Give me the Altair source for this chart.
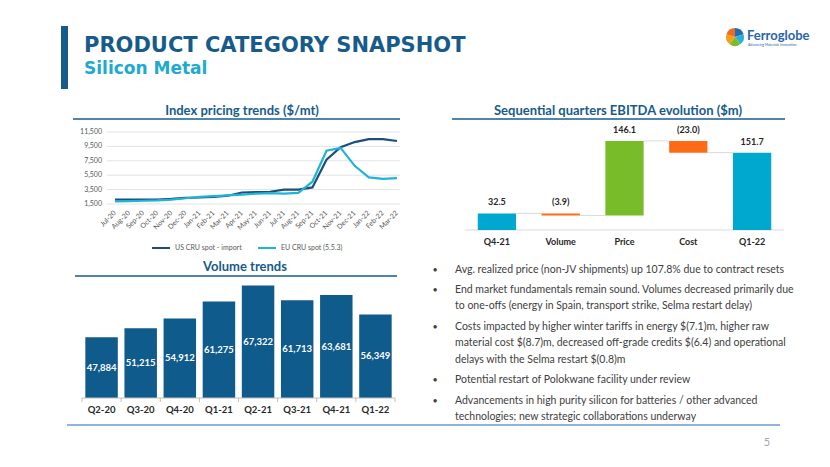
import altair as alt
import pandas as pd

FONT_T = "DejaVu Sans"
FONT = "Lato"
DARK = "#175b8b"
CYAN = "#22a9d1"
GREY_TXT = "#404040"

# ---------------- data ----------------
months = ["Jul-20", "Aug-20", "Sep-20", "Oct-20", "Nov-20", "Dec-20", "Jan-21",
          "Feb-21", "Mar-21", "Apr-21", "May-21", "Jun-21", "Jul-21", "Aug-21",
          "Sep-21", "Oct-21", "Nov-21", "Dec-21", "Jan-22", "Feb-22", "Mar-22"]
us_cru_spot = [2100, 2100, 2100, 2100, 2200, 2350, 2400, 2500, 2650, 3100, 3150,
               3200, 3500, 3500, 3800, 7650, 9400, 10100, 10500, 10500, 10250]
eu_cru_spot = [1870, 1900, 1950, 2000, 2100, 2300, 2500, 2600, 2700, 2800, 2950,
               3000, 2950, 3050, 4600, 8900, 9300, 6800, 5200, 5000, 5100]
series_names = ["US CRU spot - import", "EU CRU spot (5.5.3)"]
price_ticks = [1500, 3500, 5500, 7500, 9500, 11500]

ebitda_steps = ["Q4-21", "Volume", "Price", "Cost", "Q1-22"]
ebitda_values = [32.5, -3.9, 146.1, -23.0, 151.7]
ebitda_is_total = [True, False, False, False, True]

quarters = ["Q2-20", "Q3-20", "Q4-20", "Q1-21", "Q2-21", "Q3-21", "Q4-21", "Q1-22"]
volumes = [47884, 51215, 54912, 61275, 67322, 61713, 63681, 56349]
volume_floor = 25000

bullets = [
    ["Avg. realized price (non-JV shipments) up 107.8% due to contract resets"],
    ["End market fundamentals remain sound.  Volumes decreased primarily due",
     "to one-offs (energy in Spain, transport strike, Selma restart delay)"],
    ["Costs impacted by higher winter tariffs in energy $(7.1)m, higher raw",
     "material cost $(8.7)m, decreased off-grade credits $(6.4) and operational",
     "delays with the Selma restart $(0.8)m"],
    ["Potential restart of Polokwane facility under review"],
    ["Advancements in high purity silicon for batteries / other advanced",
     "technologies; new strategic collaborations underway"],
]

title = "PRODUCT CATEGORY SNAPSHOT"
subtitle = "Silicon Metal"
headers = ["Index pricing trends ($/mt)", "Sequential quarters EBITDA evolution ($m)", "Volume trends"]
logo_parts = ["p1", "p2", "p3", "p4", "p5"]
logo_share = [1, 1, 1, 1, 1]


def lin(domain, rng):
    return alt.Scale(type="linear", domain=domain, range=rng, nice=False, zero=False)


one = pd.DataFrame({"k": [0]})
layers = []

# ---------------- slide decorations ----------------
layers.append(alt.Chart(one).mark_rect(color=DARK).encode(
    x=alt.value(61), x2=alt.value(68), y=alt.value(26), y2=alt.value(89)))
layers.append(alt.Chart(one).mark_text(align="left", baseline="alphabetic", font=FONT_T,
                                       fontSize=21, fontWeight="bold", color=DARK).encode(
    x=alt.value(84), y=alt.value(52), text=alt.value(title)))
layers.append(alt.Chart(one).mark_text(align="left", baseline="alphabetic", font=FONT_T,
                                       fontSize=17, fontWeight="bold", color=CYAN).encode(
    x=alt.value(84), y=alt.value(74), text=alt.value(subtitle)))

# logo
logo_df = pd.DataFrame({"part": logo_parts, "share": logo_share})
layers.append(alt.Chart(logo_df).mark_arc(outerRadius=9).encode(
    theta=alt.Theta("share:Q"),
    color=alt.Color("part:N", scale=alt.Scale(domain=logo_parts,
                    range=["#1f6db4", "#27b4d8", "#7cbb2a", "#f6a01a", "#ef6a23"]), legend=None),
    x=alt.value(735), y=alt.value(37)))
layers.append(alt.Chart(one).mark_text(align="left", baseline="middle", font=FONT,
                                       fontSize=13, fontWeight="bold", color="#2a64aa").encode(
    x=alt.value(747), y=alt.value(36), text=alt.value("Ferroglobe")))
layers.append(alt.Chart(one).mark_text(align="left", baseline="middle", font=FONT,
                                       fontSize=3.5, color="#2a64aa").encode(
    x=alt.value(748), y=alt.value(45), text=alt.value("Advancing Materials Innovation")))

# section headers
for txt, cx, ty, lx0, lx1, ly in [(headers[0], 242, 115, 73, 400, 119),
                                  (headers[1], 618, 115, 452, 785, 119),
                                  (headers[2], 245, 271, 75, 397, 276)]:
    layers.append(alt.Chart(one).mark_text(align="center", baseline="alphabetic", font=FONT,
                                           fontSize=13, fontWeight="bold", color=DARK).encode(
        x=alt.value(cx), y=alt.value(ty), text=alt.value(txt)))
    layers.append(alt.Chart(one).mark_rule(color=DARK, strokeWidth=1.6).encode(
        x=alt.value(lx0), x2=alt.value(lx1), y=alt.value(ly)))

# bottom line and page number
layers.append(alt.Chart(one).mark_rule(color="#6b9bd2", strokeWidth=1.5).encode(
    x=alt.value(67), x2=alt.value(780), y=alt.value(425)))
layers.append(alt.Chart(one).mark_text(align="center", baseline="middle", font=FONT,
                                       fontSize=11, color="#a6a6a6").encode(
    x=alt.value(767), y=alt.value(443), text=alt.value("5")))

# ---------------- index pricing line chart ----------------
n_m = len(months)
px = lin([0, n_m - 1], [115, 397])
py = lin([1500, 11500], [204, 132])

grid_df = pd.DataFrame({"v": price_ticks})
layers.append(alt.Chart(grid_df).mark_rule(color="#e3e3e3", strokeWidth=1).encode(
    y=alt.Y("v:Q", scale=py, axis=None), x=alt.value(107), x2=alt.value(400)))
layers.append(alt.Chart(grid_df).mark_text(align="right", baseline="middle", font=FONT,
                                           fontSize=7, color="#595959").encode(
    y=alt.Y("v:Q", scale=py, axis=None), x=alt.value(102), text=alt.Text("v:Q", format=",")))

price_long = pd.DataFrame({
    "i": list(range(n_m)) * 2,
    "month": months * 2,
    "series": [series_names[0]] * n_m + [series_names[1]] * n_m,
    "price": us_cru_spot + eu_cru_spot,
})
layers.append(alt.Chart(price_long).mark_line(strokeWidth=2.2).encode(
    x=alt.X("i:Q", scale=px, axis=None),
    y=alt.Y("price:Q", scale=py, axis=None),
    color=alt.Color("series:N",
                    scale=alt.Scale(domain=series_names, range=["#1c4e7c", "#1fb3d6"]),
                    legend=alt.Legend(orient="none", legendX=151, legendY=238,
                                      direction="horizontal", title=None,
                                      symbolType="stroke", symbolStrokeWidth=2,
                                      symbolSize=324, labelFont=FONT, labelFontSize=7,
                                      labelColor="#595959", columnPadding=12,
                                      labelLimit=200)),
    order="i:Q"))

month_df = pd.DataFrame({"i": list(range(n_m)), "month": months})
layers.append(alt.Chart(month_df).mark_text(angle=315, align="right", baseline="middle",
                                            font=FONT, fontSize=7, color="#595959").encode(
    x=alt.X("i:Q", scale=px, axis=None), y=alt.value(212), text="month:N"))

# ---------------- EBITDA waterfall ----------------
wx = lin([0, 5], [465, 784])
wy = lin([0, 200], [230, 128])

rows = []
level = 0.0
for k, (step, val, tot) in enumerate(zip(ebitda_steps, ebitda_values, ebitda_is_total)):
    if tot:
        start, end = 0.0, val
        kind = "total"
    else:
        start, end = level, level + val
        kind = "increase" if val > 0 else "decrease"
    level = end
    rows.append(dict(k=k, step=step, start=start, end=end, top=max(start, end), kind=kind,
                     label=(f"{val:.1f}" if val >= 0 else f"({abs(val):.1f})"),
                     left=k + 0.2, right=k + 0.8, mid=k + 0.5))
wf = pd.DataFrame(rows)
conn = pd.DataFrame([dict(a=r["k"] + 0.8, b=r["k"] + 1.2, lvl=r["end"]) for r in rows[:-1]])

layers.append(alt.Chart(one).mark_rule(color="#d9d9d9", strokeWidth=1).encode(
    x=alt.value(465), x2=alt.value(784), y=alt.value(230)))
layers.append(alt.Chart(conn).mark_rule(color="#d9d9d9", strokeWidth=1).encode(
    x=alt.X("a:Q", scale=wx, axis=None), x2="b:Q",
    y=alt.Y("lvl:Q", scale=wy, axis=None)))
layers.append(alt.Chart(wf).mark_bar().encode(
    x=alt.X("left:Q", scale=wx, axis=None), x2="right:Q",
    y=alt.Y("start:Q", scale=wy, axis=None), y2="end:Q",
    color=alt.Color("kind:N", scale=alt.Scale(domain=["total", "increase", "decrease"],
                                              range=["#00a7cf", "#79bc2a", "#ff6a17"]),
                    legend=None)))
layers.append(alt.Chart(wf).mark_text(align="center", baseline="middle", dy=-11, font=FONT,
                                      fontSize=9, fontWeight="bold", color="#262626").encode(
    x=alt.X("mid:Q", scale=wx, axis=None), y=alt.Y("top:Q", scale=wy, axis=None),
    text="label:N"))
layers.append(alt.Chart(wf).mark_text(align="center", baseline="middle", font=FONT,
                                      fontSize=9, fontWeight="bold", color="#262626").encode(
    x=alt.X("mid:Q", scale=wx, axis=None), y=alt.value(242), text="step:N"))

# ---------------- volume bars ----------------
vx = lin([0, 8], [82, 395])
vy = lin([volume_floor, 70000], [398, 278.3])
vol = pd.DataFrame({"i": list(range(len(quarters))), "q": quarters, "vol": volumes})
vol["left"] = vol["i"] + 0.085
vol["right"] = vol["i"] + 0.915
vol["mid"] = vol["i"] + 0.5
vol["floor"] = volume_floor
vol["center"] = (vol["vol"] + volume_floor) / 2

layers.append(alt.Chart(vol).mark_bar(color="#0f5b8b").encode(
    x=alt.X("left:Q", scale=vx, axis=None), x2="right:Q",
    y=alt.Y("vol:Q", scale=vy, axis=None), y2="floor:Q"))
layers.append(alt.Chart(vol).mark_text(align="center", baseline="middle", font=FONT,
                                       fontSize=9.5, fontWeight="bold", color="white").encode(
    x=alt.X("mid:Q", scale=vx, axis=None), y=alt.Y("center:Q", scale=vy, axis=None),
    text=alt.Text("vol:Q", format=",")))
layers.append(alt.Chart(one).mark_rule(color="#bfbfbf", strokeWidth=1).encode(
    x=alt.value(82), x2=alt.value(395), y=alt.value(398)))
tick_df = pd.DataFrame({"t": list(range(len(quarters) + 1))})
layers.append(alt.Chart(tick_df).mark_rule(color="#bfbfbf", strokeWidth=1).encode(
    x=alt.X("t:Q", scale=vx, axis=None), y=alt.value(398), y2=alt.value(402)))
layers.append(alt.Chart(vol).mark_text(align="center", baseline="middle", font=FONT,
                                       fontSize=9.5, fontWeight="bold", color="#262626").encode(
    x=alt.X("mid:Q", scale=vx, axis=None), y=alt.value(410), text="q:N"))

# ---------------- bullets ----------------
brow = []
slot = 0.0
for b, blines in enumerate(bullets):
    if b > 0:
        slot += 0.25
    for j, line in enumerate(blines):
        brow.append(dict(slot=slot, text=line, first=(j == 0)))
        slot += 1
bdf = pd.DataFrame(brow)
by = lin([0, 10], [269.5, 269.5 + 10 * 16.4])
layers.append(alt.Chart(bdf).mark_text(align="left", baseline="middle", font=FONT,
                                       fontSize=10.5, color=GREY_TXT).encode(
    x=alt.value(455), y=alt.Y("slot:Q", scale=by, axis=None), text="text:N"))
layers.append(alt.Chart(bdf[bdf["first"]]).mark_text(align="center", baseline="middle",
                                                    font=FONT, fontSize=9, color=GREY_TXT).encode(
    x=alt.value(435), y=alt.Y("slot:Q", scale=by, axis=None), text=alt.value("•")))

chart = alt.layer(*layers).resolve_scale(
    x="independent", y="independent", color="independent"
).properties(
    width=830, height=467, padding=0, autosize="none", background="white"
).configure_view(stroke=None)

chart.save("out.html", embed_options={"renderer": "svg", "actions": False})
